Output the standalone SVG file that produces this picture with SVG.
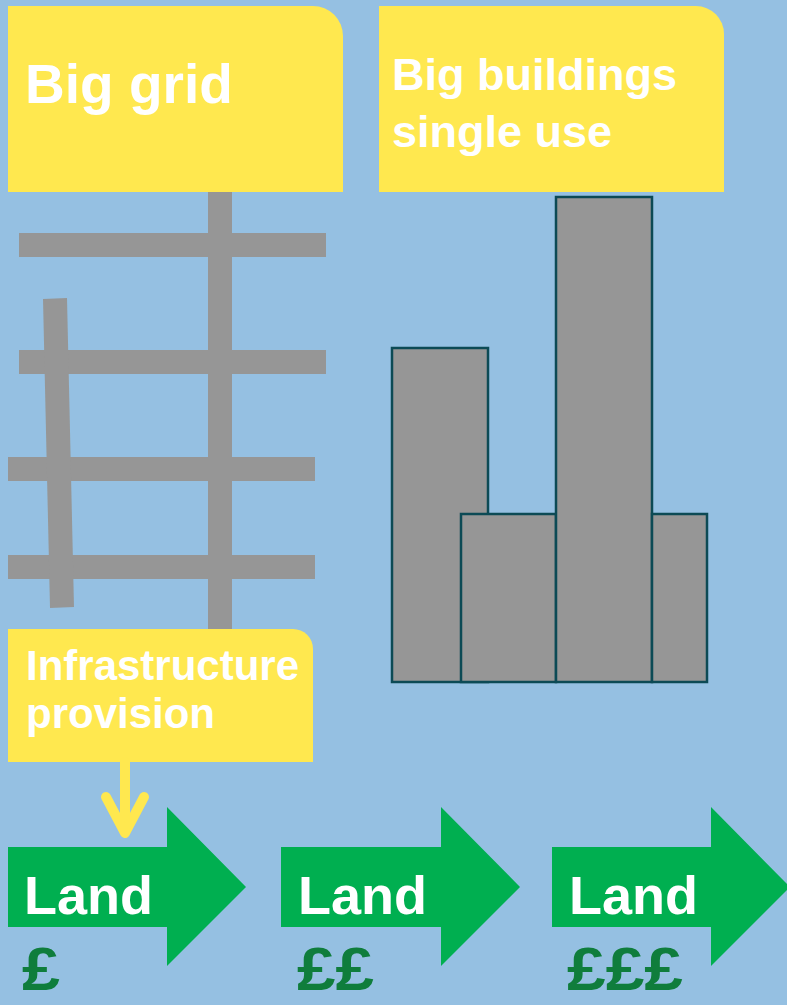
<svg xmlns="http://www.w3.org/2000/svg" width="787" height="1005" viewBox="0 0 787 1005">
  <style>
    .label { font-family: "Liberation Sans", Arial, sans-serif; font-weight: bold; fill: #FFFFFF; }
    .box { fill: #FFE84F; }
    .road { fill: #969696; }
    .bldg { fill: #969696; stroke: #0C4A55; stroke-width: 2.5; }
    .land { fill: #00AF50; }
    .price { font-family: "Liberation Sans", Arial, sans-serif; font-weight: bold; fill: #0F7D3C; font-size: 62px; }
  </style>
  <rect width="787" height="1005" fill="#95C0E2"/>

  <!-- street grid -->
  <g id="grid">
    <rect class="road" x="208" y="188" width="24" height="444"/>
    <rect class="road" x="19" y="233" width="307" height="24"/>
    <rect class="road" x="19" y="350" width="307" height="24"/>
    <rect class="road" x="8" y="457" width="307" height="24"/>
    <rect class="road" x="8" y="555" width="307" height="24"/>
    <polygon class="road" points="43,299 67,298 74,607 50,608"/>
  </g>

  <!-- building blocks -->
  <g id="buildings">
    <rect class="bldg" x="392" y="348" width="96" height="334"/>
    <rect class="bldg" x="461" y="514" width="95" height="168"/>
    <rect class="bldg" x="556" y="197" width="96" height="485"/>
    <rect class="bldg" x="652" y="514" width="55" height="168"/>
  </g>

  <g id="big-grid">
    <path class="box" d="M8,6 H313 A30,30 0 0 1 343,36 V192 H8 Z"/>
    <text class="label" x="25" y="103" font-size="55">Big grid</text>
  </g>

  <g id="big-buildings">
    <path class="box" d="M379,6 H696 A28,28 0 0 1 724,34 V192 H379 Z"/>
    <text class="label" x="392" y="90" font-size="45">Big buildings</text>
    <text class="label" x="392" y="147" font-size="45">single use</text>
  </g>

  <g id="infrastructure">
    <path class="box" d="M8,629 H293 A20,20 0 0 1 313,649 V762 H8 Z"/>
    <text class="label" x="26" y="680" font-size="42">Infrastructure</text>
    <text class="label" x="26" y="728" font-size="42">provision</text>
  </g>

  <!-- connector from infrastructure to land -->
  <g id="connectors" fill="none" stroke="#FFE84F" stroke-width="10" stroke-linecap="round" stroke-linejoin="round">
    <line x1="125" y1="762" x2="125" y2="832"/>
    <polyline points="106,797 125,833 144,797"/>
  </g>

  <g id="land-1">
    <polygon class="land" points="8,847 167,847 167,807 246,887 167,966 167,927 8,927"/>
    <text class="label" x="24" y="914" font-size="54">Land</text>
    <text class="price" x="22" y="990" textLength="38" lengthAdjust="spacingAndGlyphs">£</text>
  </g>

  <g id="land-2">
    <polygon class="land" points="281,847 441,847 441,807 520,887 441,966 441,927 281,927"/>
    <text class="label" x="298" y="914" font-size="54">Land</text>
    <text class="price" x="297" y="990" textLength="77" lengthAdjust="spacingAndGlyphs">££</text>
  </g>

  <g id="land-3">
    <polygon class="land" points="552,847 711,847 711,807 790,887 711,966 711,927 552,927"/>
    <text class="label" x="569" y="914" font-size="54">Land</text>
    <text class="price" x="567" y="990" textLength="116" lengthAdjust="spacingAndGlyphs">£££</text>
  </g>
</svg>
